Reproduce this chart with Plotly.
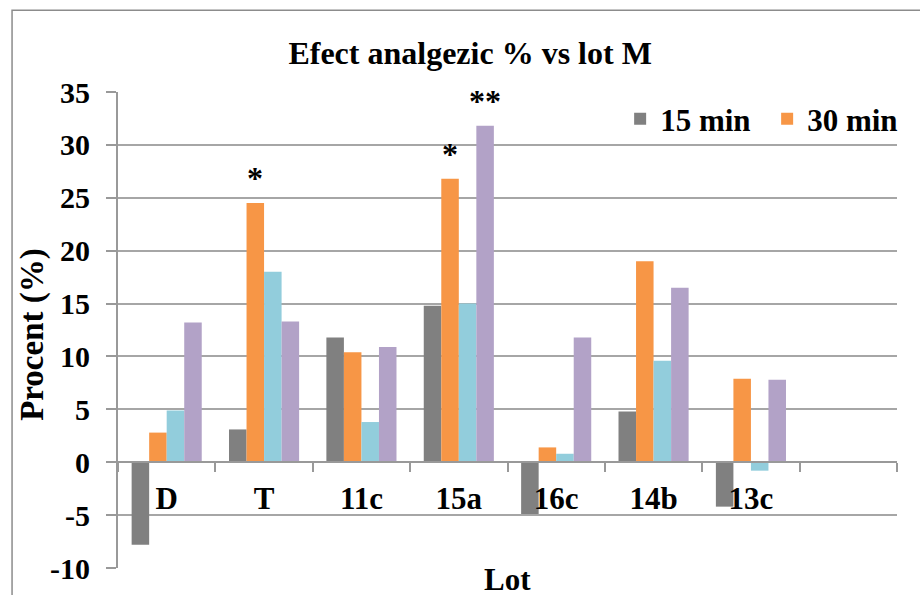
import plotly.graph_objects as go

categories = ["D", "T", "11c", "15a", "16c", "14b", "13c", " "]
series_names = ["15 min", "30 min", "45 min", "60 min"]
v15 = [-7.8, 3.1, 11.8, 14.8, -4.9, 4.8, -4.2, None]
v30 = [2.8, 24.5, 10.4, 26.8, 1.4, 19.0, 7.9, None]
v45 = [4.9, 18.0, 3.8, 15.0, 0.8, 9.6, -0.8, None]
v60 = [13.2, 13.3, 10.9, 31.8, 11.8, 16.5, 7.8, None]
# significance marks: (category, series index, value, text)
marks = [("T", 1, 24.5, "*"), ("15a", 1, 26.8, "*"), ("15a", 3, 31.8, "**")]
colors = ["#808080", "#F79646", "#92CDDC", "#B2A2C7"]
y_ticks = [-10, -5, 0, 5, 10, 15, 20, 25, 30, 35]
y_ticktext = ["-10", "-5", "0", "5", "10", "15", "20", "25", "30", "35"]

FONT = "Liberation Serif"
W, H = 920, 595
ML, MR, MT, MB = 118, 23, 92, 27
BARGAP = 0.28
plot_w = W - ML - MR
bar_px = plot_w / len(categories) * (1 - BARGAP) / len(series_names)

fig = go.Figure()
for i, (name, v) in enumerate(zip(series_names, [v15, v30, v45, v60])):
    fig.add_trace(go.Bar(x=categories, y=v, name=name,
                         marker=dict(color=colors[i], line=dict(width=0)),
                         showlegend=(i < 2)))

for cat, si, val, txt in marks:
    fig.add_annotation(x=cat, y=val, xref="x", yref="y", text=txt, showarrow=False,
                       xshift=(si - 1.5) * bar_px, yanchor="bottom", yshift=5,
                       font=dict(family=FONT, size=32, color="black"))

bold = dict(family=FONT, size=30, color="black", weight="bold")
fig.update_layout(
    width=W, height=H,
    margin=dict(l=ML, r=MR, t=MT, b=MB, autoexpand=False),
    paper_bgcolor="white", plot_bgcolor="white",
    barmode="group", bargap=BARGAP, bargroupgap=0,
    font=bold,
    title=dict(text="Efect analgezic % vs lot M", x=0.511, xanchor="center", y=0.912, yanchor="middle",
               font=dict(family=FONT, size=32, color="black", weight="bold")),
    legend=dict(orientation="h", x=1.022, xanchor="right", y=1.0, yanchor="top",
                font=dict(family=FONT, size=31, color="black", weight="bold"),
                bgcolor="rgba(0,0,0,0)", itemwidth=30, tracegroupgap=0, entrywidth=102),
    xaxis=dict(categoryorder="array", categoryarray=categories, range=[-0.5, 7.5], automargin=False,
               anchor="free", position=10 / 45, showline=True, linecolor="#999999", linewidth=2,
               ticks="outside", tickson="boundaries", ticklen=9, tickcolor="#999999", tickwidth=2,
               tickfont=dict(family=FONT, size=31, color="black", weight="bold"),
               ticklabelstandoff=9, showgrid=False),
    yaxis=dict(range=[-10, 35], tickvals=y_ticks, ticktext=y_ticktext, domain=[0, 1], automargin=False,
               showline=True, linecolor="#999999", linewidth=2,
               ticks="outside", ticklen=10, tickcolor="#999999", tickwidth=2,
               showgrid=True, gridcolor="#A6A6A6", gridwidth=2, zeroline=False,
               tickfont=bold, ticklabelstandoff=10),
)
fig.add_annotation(text="Procent (%)", xref="paper", yref="paper", x=-0.109, y=0.49,
                   xanchor="center", yanchor="middle", textangle=-90, showarrow=False,
                   font=dict(family=FONT, size=33, color="black", weight="bold"))
fig.add_annotation(text="Lot", xref="paper", yref="paper", x=0.5, y=-0.025, yanchor="middle",
                   showarrow=False, font=dict(family=FONT, size=31, color="black", weight="bold"))
fig.add_shape(type="rect", xref="paper", yref="paper", x0=-0.136, x1=1.2, y0=-0.2, y1=1.172,
              line=dict(color="#8C8C8C", width=1.5), layer="below")
fig.write_html("out.html", config={"displayModeBar": False},
               post_script="document.body.style.margin='0';")
